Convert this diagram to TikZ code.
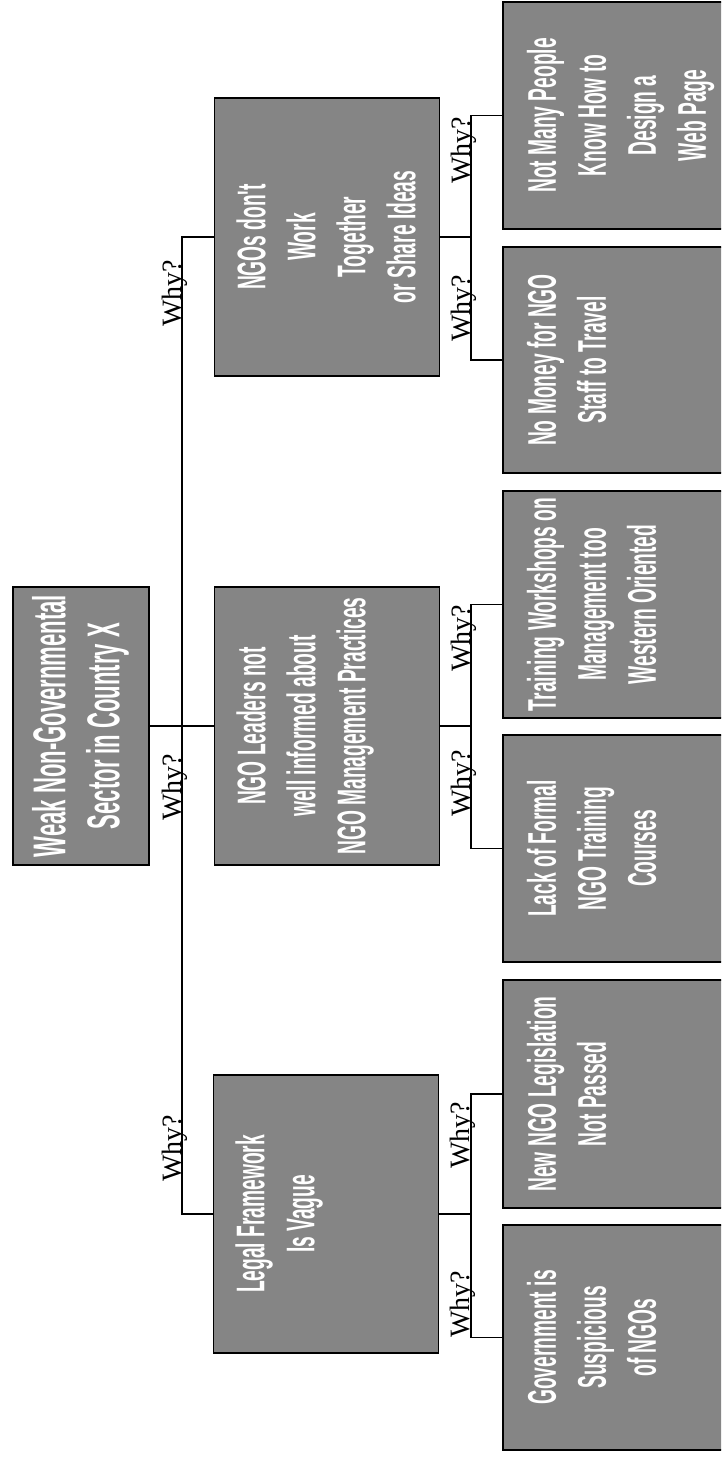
\documentclass[tikz,border=0pt]{standalone}
\usepackage{fontspec}
\setmainfont{Liberation Serif}
\newfontfamily\boxfont{Liberation Sans}[FakeStretch=0.48]
\definecolor{boxgray}{HTML}{858585}
\newcommand\bxt[4]{\parbox[c][#1][t]{#2}{\boxfont\bfseries\fontsize{40}{50}\selectfont\centering\vspace*{#3}#4}}
\begin{document}
\begin{tikzpicture}[x=1pt,y=-1pt,
  box/.style={draw=black, line width=1.5pt, fill=boxgray, inner sep=0pt, rotate=90, text=white},
  why/.style={rotate=90, anchor=base, font=\fontsize{28}{30}\selectfont, inner sep=0pt},
  link/.style={draw=black, line width=1.6pt}]
\useasboundingbox (0,0) rectangle (721,1457);
\clip (0,0) rectangle (721,1457);
% root
\node[box] (root) at (81,726) {\bxt{136pt}{278pt}{19pt}{\fontsize{46}{54}\selectfont Weak Non-Governmental\\Sector in Country X}};
% level 2
\node[box] (ngos) at (327,237) {\bxt{225pt}{278pt}{22pt}{NGOs don't\\Work\\Together\\or Share Ideas}};
\node[box] (leaders) at (327,726) {\bxt{225pt}{278pt}{22pt}{NGO Leaders not\\well informed about\\NGO Management Practices}};
\node[box] (legal) at (326,1214) {\bxt{225pt}{278pt}{22pt}{Legal Framework\\Is Vague}};
% level 3
\node[box] (notmany) at (615,115.5) {\bxt{224pt}{227pt}{24pt}{Not Many People\\Know How to\\Design a\\Web Page}};
\node[box] (nomoney) at (615,360) {\bxt{224pt}{226pt}{24pt}{No Money for NGO\\Staff to Travel}};
\node[box] (training) at (615,604.5) {\bxt{224pt}{227pt}{24pt}{Training Workshops on\\Management too\\Western Oriented}};
\node[box] (lack) at (615,848.5) {\bxt{224pt}{227pt}{24pt}{Lack of Formal\\NGO Training\\Courses}};
\node[box] (newngo) at (615,1094) {\bxt{224pt}{228pt}{24pt}{New NGO Legislation\\Not Passed}};
\node[box] (gov) at (615,1337.5) {\bxt{224pt}{225pt}{24pt}{Government is\\Suspicious\\of NGOs}};
% connector columns
\coordinate (mx) at (182,0);
\coordinate (sx) at (471,0);
% main connectors
\draw[link] (ngos.north) -- (ngos.north -| mx) -- (legal.north -| mx) -- (legal.north);
\draw[link] (root.south) -- (leaders.north);
% sub connectors
\draw[link] (ngos.south) -- (ngos.south -| sx);
\draw[link] (notmany.north) -- (notmany.north -| sx) -- (nomoney.north -| sx) -- (nomoney.north);
\draw[link] (leaders.south) -- (leaders.south -| sx);
\draw[link] (training.north) -- (training.north -| sx) -- (lack.north -| sx) -- (lack.north);
\draw[link] (legal.south) -- (legal.south -| sx);
\draw[link] (newngo.north) -- (newngo.north -| sx) -- (gov.north -| sx) -- (gov.north);
% labels
\node[why] (w1) at (181,293) {Why?};
\node[why] (w2) at (181,787) {Why?};
\node[why] (w3) at (181,1148) {Why?};
\node[why] (w4) at (470,150) {Why?};
\node[why] (w5) at (470,308) {Why?};
\node[why] (w6) at (470,638) {Why?};
\node[why] (w7) at (470,783) {Why?};
\node[why] (w8) at (469,1135) {Why?};
\node[why] (w9) at (469,1304) {Why?};
\end{tikzpicture}
\end{document}
